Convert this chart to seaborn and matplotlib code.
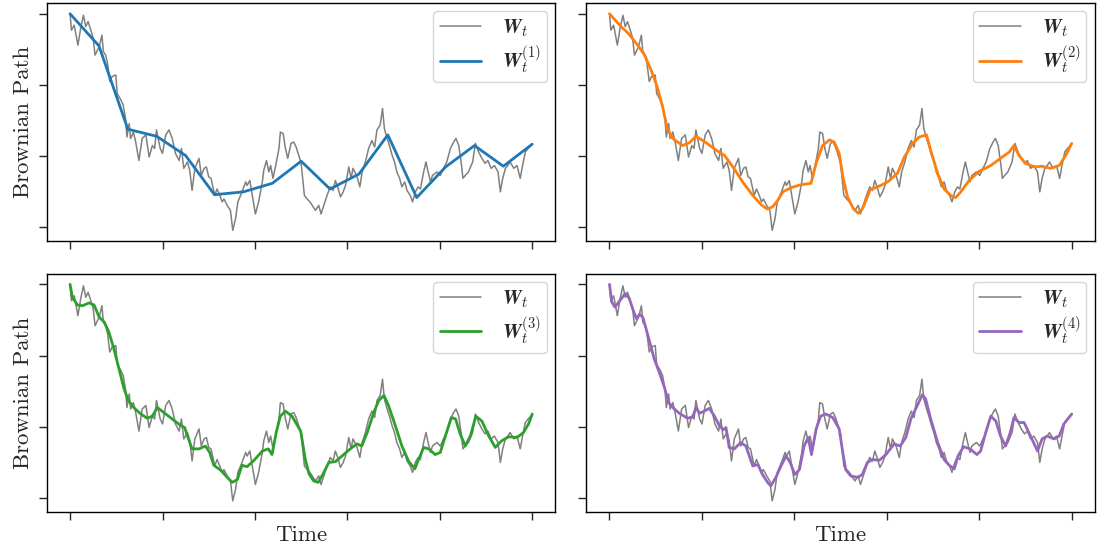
import matplotlib
matplotlib.use("Agg")
import matplotlib.pyplot as plt
import seaborn as sns

gray_t = [0.000, 0.003, 0.009, 0.017, 0.023, 0.029, 0.034, 0.039, 0.045, 0.050,
          0.054, 0.063, 0.069, 0.072, 0.077, 0.081, 0.086, 0.091, 0.099, 0.102,
          0.110, 0.115, 0.120, 0.123, 0.128, 0.131, 0.137, 0.142, 0.149, 0.156,
          0.164, 0.171, 0.178, 0.183, 0.187, 0.195, 0.200, 0.207, 0.214, 0.221,
          0.228, 0.236, 0.241, 0.246, 0.254, 0.259, 0.264, 0.270, 0.279, 0.284,
          0.290, 0.295, 0.300, 0.305, 0.313, 0.318, 0.324, 0.329, 0.333, 0.340,
          0.347, 0.352, 0.358, 0.363, 0.369, 0.376, 0.380, 0.383, 0.389, 0.393,
          0.398, 0.401, 0.408, 0.416, 0.419, 0.425, 0.430, 0.434, 0.439, 0.445,
          0.452, 0.455, 0.461, 0.466, 0.471, 0.478, 0.484, 0.489, 0.495, 0.500,
          0.504, 0.507, 0.513, 0.519, 0.524, 0.531, 0.538, 0.543, 0.549, 0.556,
          0.563, 0.569, 0.574, 0.579, 0.585, 0.591, 0.596, 0.603, 0.608, 0.612,
          0.620, 0.627, 0.632, 0.639, 0.646, 0.653, 0.659, 0.664, 0.671, 0.676,
          0.680, 0.686, 0.691, 0.697, 0.702, 0.707, 0.713, 0.718, 0.724, 0.729,
          0.736, 0.741, 0.747, 0.753, 0.758, 0.765, 0.770, 0.774, 0.780, 0.784,
          0.794, 0.801, 0.808, 0.815, 0.823, 0.830, 0.835, 0.841, 0.847, 0.850,
          0.855, 0.862, 0.871, 0.877, 0.884, 0.891, 0.898, 0.904, 0.911, 0.918,
          0.926, 0.931, 0.936, 0.942, 0.947, 0.952, 0.960, 0.967, 0.974, 0.979,
          0.985, 0.991, 1.000]
gray_w = [0.00, -0.23, -0.16, -0.44, -0.20, -0.02, -0.18, -0.11, -0.23, -0.34,
          -0.58, -0.46, -0.30, -0.53, -0.58, -0.69, -0.95, -0.88, -0.86, -1.12,
          -1.21, -1.28, -1.47, -1.73, -1.54, -1.75, -1.66, -1.80, -2.06, -1.75,
          -1.70, -2.01, -1.85, -1.89, -1.63, -1.89, -1.96, -1.70, -1.63, -1.75,
          -1.96, -2.06, -1.89, -2.17, -2.08, -2.20, -2.48, -2.17, -2.03, -2.27,
          -2.17, -2.15, -2.29, -2.31, -2.55, -2.46, -2.55, -2.64, -2.60, -2.69,
          -2.76, -3.04, -2.88, -2.64, -2.55, -2.43, -2.36, -2.41, -2.34, -2.50,
          -2.69, -2.81, -2.64, -2.36, -2.20, -2.06, -2.22, -2.13, -2.31, -2.13,
          -1.89, -1.66, -1.68, -1.89, -2.03, -1.82, -1.80, -1.87, -1.99, -2.10,
          -2.36, -2.55, -2.60, -2.64, -2.69, -2.76, -2.69, -2.81, -2.69, -2.55,
          -2.43, -2.48, -2.34, -2.43, -2.57, -2.50, -2.41, -2.15, -2.31, -2.17,
          -2.27, -2.43, -2.22, -2.08, -1.89, -1.78, -1.87, -1.63, -1.56, -1.33,
          -1.61, -1.75, -1.85, -1.99, -2.08, -2.22, -2.31, -2.43, -2.36, -2.48,
          -2.55, -2.64, -2.50, -2.43, -2.46, -2.22, -2.08, -2.20, -2.36, -2.27,
          -2.22, -2.27, -2.17, -2.08, -1.89, -1.80, -1.75, -1.85, -2.13, -2.31,
          -2.27, -2.22, -2.08, -1.82, -1.94, -2.03, -2.10, -2.06, -2.17, -2.13,
          -2.22, -2.50, -2.31, -2.17, -2.13, -2.08, -2.17, -2.13, -2.31, -2.13,
          -1.94, -1.89, -1.83]

w1_t = [0.0, 0.0625, 0.125, 0.1875, 0.25, 0.3125, 0.375, 0.4375, 0.5,
        0.5625, 0.625, 0.6875, 0.75, 0.8125, 0.875, 0.9375, 1.0]
w1_w = [0.00, -0.45, -1.62, -1.72, -1.99, -2.54, -2.50, -2.38, -2.07,
        -2.46, -2.25, -1.70, -2.58, -2.15, -1.85, -2.14, -1.83]

w2_t = [0.000, 0.025, 0.040, 0.061, 0.076, 0.090, 0.103, 0.115, 0.125, 0.137,
        0.158, 0.173, 0.187, 0.209, 0.230, 0.249, 0.267, 0.288, 0.310, 0.328,
        0.341, 0.353, 0.364, 0.375, 0.393, 0.414, 0.436, 0.447, 0.461, 0.476,
        0.486, 0.497, 0.505, 0.515, 0.528, 0.538, 0.547, 0.555, 0.564, 0.580,
        0.602, 0.623, 0.638, 0.656, 0.670, 0.686, 0.695, 0.710, 0.724, 0.738,
        0.749, 0.760, 0.778, 0.800, 0.825, 0.846, 0.865, 0.875, 0.886, 0.900,
        0.919, 0.936, 0.954, 0.973, 0.987, 1.000]
w2_w = [0.00, -0.18, -0.27, -0.44, -0.58, -0.79, -1.02, -1.31, -1.61, -1.75,
        -1.85, -1.81, -1.72, -1.81, -1.91, -1.99, -2.15, -2.36, -2.55, -2.68,
        -2.74, -2.71, -2.62, -2.50, -2.44, -2.40, -2.38, -2.10, -1.85, -1.77,
        -1.80, -1.96, -2.29, -2.57, -2.74, -2.80, -2.74, -2.62, -2.47, -2.43,
        -2.36, -2.24, -2.01, -1.82, -1.73, -1.70, -1.92, -2.24, -2.46, -2.55,
        -2.58, -2.50, -2.34, -2.21, -2.13, -2.03, -1.94, -1.85, -1.99, -2.10,
        -2.15, -2.14, -2.17, -2.13, -1.99, -1.82]

w3_t = [0.000, 0.005, 0.016, 0.027, 0.041, 0.052, 0.063, 0.074, 0.084, 0.095,
        0.106, 0.117, 0.126, 0.138, 0.153, 0.167, 0.178, 0.189, 0.203, 0.221,
        0.239, 0.248, 0.254, 0.264, 0.279, 0.293, 0.302, 0.311, 0.326, 0.340,
        0.351, 0.362, 0.372, 0.383, 0.398, 0.416, 0.429, 0.437, 0.446, 0.455,
        0.466, 0.480, 0.499, 0.509, 0.517, 0.527, 0.537, 0.545, 0.560, 0.574,
        0.592, 0.610, 0.621, 0.631, 0.643, 0.657, 0.668, 0.679, 0.689, 0.704,
        0.718, 0.733, 0.746, 0.754, 0.765, 0.776, 0.790, 0.801, 0.812, 0.825,
        0.834, 0.844, 0.855, 0.866, 0.878, 0.891, 0.906, 0.920, 0.933, 0.949,
        0.967, 0.981, 0.992, 1.000]
w3_w = [0.00, -0.18, -0.29, -0.30, -0.26, -0.29, -0.46, -0.53, -0.67, -0.91,
        -1.19, -1.47, -1.63, -1.73, -1.82, -1.88, -1.85, -1.73, -1.80, -1.89,
        -1.98, -2.01, -2.13, -2.31, -2.31, -2.27, -2.36, -2.54, -2.61, -2.71,
        -2.78, -2.74, -2.54, -2.56, -2.47, -2.34, -2.31, -2.39, -2.08, -1.85,
        -1.78, -1.85, -2.06, -2.46, -2.66, -2.76, -2.78, -2.69, -2.50, -2.49,
        -2.39, -2.29, -2.24, -2.27, -2.08, -1.80, -1.63, -1.56, -1.70, -1.99,
        -2.27, -2.49, -2.59, -2.46, -2.29, -2.31, -2.39, -2.36, -2.13, -1.87,
        -1.89, -2.10, -2.27, -2.13, -1.85, -1.92, -2.13, -2.29, -2.20, -2.14,
        -2.15, -2.08, -1.96, -1.82]

w4_t = [0.000, 0.005, 0.012, 0.022, 0.034, 0.043, 0.050, 0.058, 0.065, 0.072,
        0.079, 0.089, 0.097, 0.108, 0.119, 0.128, 0.137, 0.151, 0.169, 0.180,
        0.187, 0.195, 0.205, 0.216, 0.227, 0.238, 0.247, 0.252, 0.259, 0.270,
        0.284, 0.295, 0.310, 0.321, 0.331, 0.342, 0.349, 0.360, 0.371, 0.382,
        0.391, 0.401, 0.411, 0.421, 0.430, 0.437, 0.447, 0.457, 0.468, 0.483,
        0.497, 0.504, 0.511, 0.522, 0.537, 0.547, 0.558, 0.569, 0.584, 0.598,
        0.616, 0.629, 0.641, 0.652, 0.666, 0.677, 0.684, 0.695, 0.710, 0.724,
        0.735, 0.746, 0.754, 0.766, 0.780, 0.795, 0.803, 0.814, 0.825, 0.836,
        0.846, 0.857, 0.867, 0.875, 0.886, 0.897, 0.911, 0.926, 0.936, 0.947,
        0.962, 0.973, 0.983, 1.000]
w4_w = [0.00, -0.25, -0.32, -0.23, -0.13, -0.20, -0.34, -0.48, -0.42, -0.46,
        -0.62, -0.86, -1.05, -1.24, -1.45, -1.66, -1.73, -1.81, -1.88, -1.86,
        -1.73, -1.81, -1.78, -1.74, -1.85, -1.99, -2.04, -2.01, -2.29, -2.31,
        -2.22, -2.27, -2.55, -2.53, -2.67, -2.78, -2.83, -2.71, -2.55, -2.41,
        -2.50, -2.67, -2.60, -2.27, -2.15, -2.39, -2.03, -1.85, -1.82, -1.87,
        -2.03, -2.33, -2.60, -2.69, -2.71, -2.67, -2.50, -2.46, -2.47, -2.39,
        -2.24, -2.27, -2.15, -1.89, -1.70, -1.55, -1.61, -1.89, -2.22, -2.46,
        -2.54, -2.59, -2.41, -2.28, -2.31, -2.39, -2.34, -2.08, -1.85, -1.92,
        -2.13, -2.27, -2.08, -1.87, -1.94, -1.94, -2.13, -2.34, -2.17, -2.13,
        -2.17, -2.13, -1.96, -1.82]

approx_labels = [r"$\boldsymbol{W}_t^{(1)}$", r"$\boldsymbol{W}_t^{(2)}$",
                 r"$\boldsymbol{W}_t^{(3)}$", r"$\boldsymbol{W}_t^{(4)}$"]
approx_colors = ["#1f77b4", "#ff7f0e", "#2ca02c", "#9467bd"]

sns.set_theme(style="ticks")
plt.rcParams["font.family"] = ["serif"]
plt.rcParams["font.serif"] = ["cmr10", "DejaVu Serif"]
plt.rcParams["mathtext.fontset"] = "cm"
plt.rcParams["axes.formatter.use_mathtext"] = True

fig, axes = plt.subplots(2, 2, figsize=(10.97, 5.52), dpi=100)
fig.subplots_adjust(left=0.0428, right=0.998, top=0.9946, bottom=0.073,
                    wspace=0.061, hspace=0.136)

approx = [(w1_t, w1_w), (w2_t, w2_w), (w3_t, w3_w), (w4_t, w4_w)]
for i, ax in enumerate(axes.flat):
    t, w = approx[i]
    sns.lineplot(x=gray_t, y=gray_w, ax=ax, color="gray", lw=1.1,
                 label=r"$\boldsymbol{W}_t$", estimator=None, sort=False)
    sns.lineplot(x=t, y=w, ax=ax, color=approx_colors[i], lw=2,
                 label=approx_labels[i], estimator=None, sort=False)
    ax.set_xticks([0, 0.2, 0.4, 0.6, 0.8, 1.0])
    ax.set_yticks([0, -1, -2, -3])
    ax.tick_params(labelbottom=False, labelleft=False, width=1, length=6)
    for s in ax.spines.values():
        s.set_color("black")
        s.set_linewidth(1.0)
    ax.legend(loc="upper right", prop={"size": 15},
              handlelength=2.0, borderpad=0.3, labelspacing=0.2,
              handletextpad=1.0, borderaxespad=0.4)
    ax.set_xlabel("Time" if i >= 2 else "", fontsize=16.5)
    ax.set_ylabel("Brownian Path" if i % 2 == 0 else "", fontsize=16.5)

plt.savefig("out.png", dpi=100)
plt.close()
